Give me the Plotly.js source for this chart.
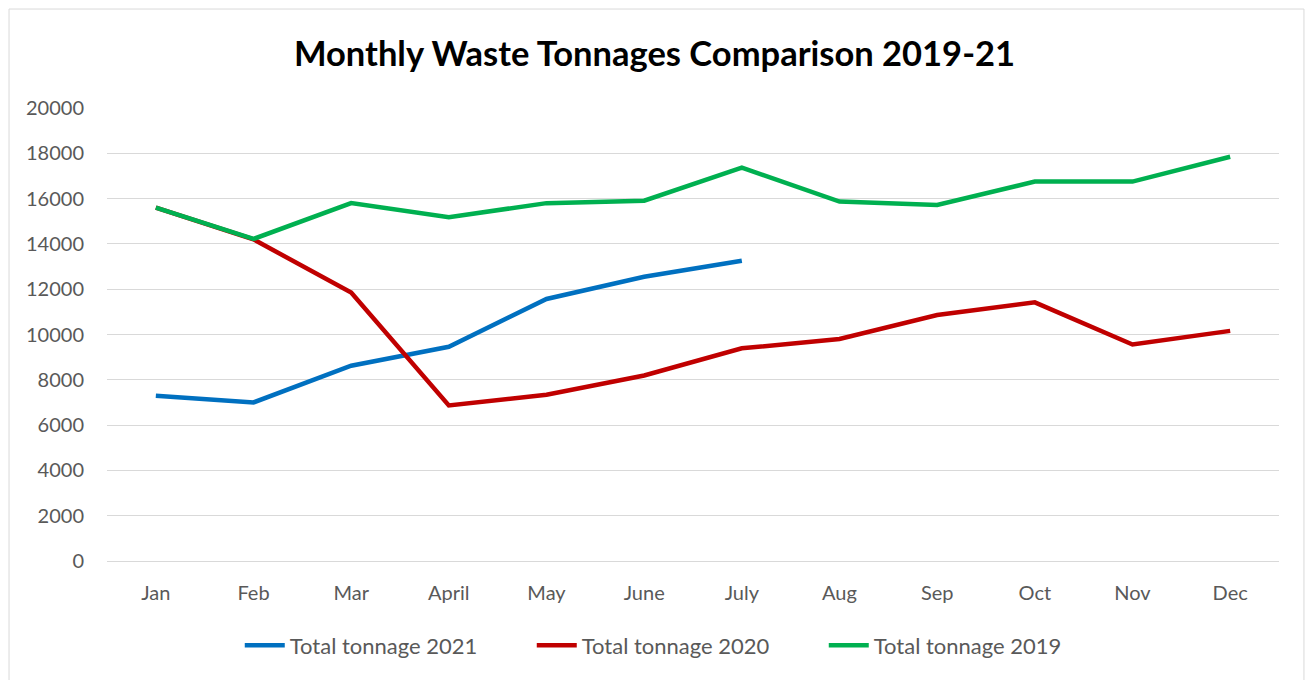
<!DOCTYPE html>
<html>
<head>
<meta charset="utf-8">
<script src="https://cdn.plot.ly/plotly-3.0.1.min.js"></script>
<style>
html,body{margin:0;padding:0;background:#fff;}
#chart{width:1309px;height:680px;}
</style>
</head>
<body>
<div id="chart"></div>
<script>
const months = ["Jan","Feb","Mar","April","May","June","July","Aug","Sep","Oct","Nov","Dec"];
const tonnage2021 = [7300, 7000, 8620, 9460, 11570, 12550, 13260];
const tonnage2020 = [15600, 14200, 11850, 6870, 7340, 8190, 9390, 9800, 10860, 11420, 9560, 10160];
const tonnage2019 = [15600, 14220, 15800, 15180, 15800, 15910, 17370, 15870, 15720, 16750, 16750, 17850];
const yTicks = [0,2000,4000,6000,8000,10000,12000,14000,16000,18000,20000];

const font = "Lato, 'Open Sans', sans-serif";
const traces = [
  {x: months.slice(0, tonnage2021.length), y: tonnage2021, name: "Total tonnage 2021", type: "scatter", mode: "lines",
   line: {color: "#0070C0", width: 4.5}},
  {x: months, y: tonnage2020, name: "Total tonnage 2020", type: "scatter", mode: "lines",
   line: {color: "#C00000", width: 4.5}},
  {x: months, y: tonnage2019, name: "Total tonnage 2019", type: "scatter", mode: "lines",
   line: {color: "#00B050", width: 4.5}}
];
const layout = {
  width: 1309, height: 680,
  margin: {l: 107, r: 30, t: 108, b: 119},
  paper_bgcolor: "#fff", plot_bgcolor: "#fff",
  font: {family: font, color: "#595959", size: 15},
  title: {text: "<b>Monthly Waste Tonnages Comparison 2019-21</b>", font: {family: font, size: 34.5, color: "#000"},
          x: 0.5, xanchor: "center", y: 0.92, yanchor: "middle"},
  xaxis: {type: "category", categoryarray: months, range: [-0.5, 11.5], showgrid: false, zeroline: false,
          showline: true, linecolor: "#d9d9d9", linewidth: 1, ticks: "", ticklabelstandoff: 14,
          tickfont: {size: 20, color: "#595959"}, fixedrange: true},
  yaxis: {range: [0, 20000], tickvals: yTicks, ticktext: yTicks.map(String), showgrid: true, gridcolor: "#d9d9d9",
          gridwidth: 1, zeroline: false, showline: false, ticks: "", ticklabelstandoff: 22,
          tickfont: {size: 20, color: "#595959"}},
  legend: {orientation: "h", x: 0.487, xanchor: "center", y: -0.14, yanchor: "top",
           font: {size: 22, color: "#595959"}, itemwidth: 40, tracegroupgap: 0,
           entrywidth: 237, entrywidthmode: "pixels"},
  showlegend: true,
  shapes: [{type: "rect", xref: "paper", yref: "paper", x0: -0.0836, x1: 1.0213, y0: -0.27, y1: 1.2185,
            line: {color: "#d9d9d9", width: 1}, fillcolor: "rgba(0,0,0,0)", layer: "below"}]
};
Plotly.newPlot("chart", traces, layout, {displayModeBar: false, staticPlot: true});
</script>
</body>
</html>
